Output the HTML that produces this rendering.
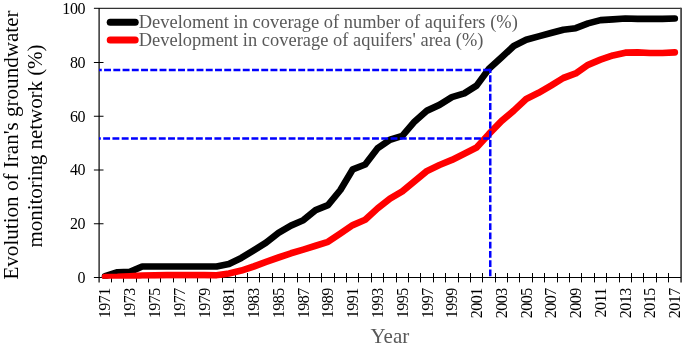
<!DOCTYPE html>
<html><head><meta charset="utf-8"><title>Evolution of Iran's groundwater monitoring network</title>
<style>
html,body{margin:0;padding:0;background:#fff;}
body{width:685px;height:349px;overflow:hidden;}
svg{display:block;will-change:transform;font-family:"Liberation Serif","Times New Roman",serif;}
</style></head><body>
<svg width="685" height="349" viewBox="0 0 685 349">
<rect width="685" height="349" fill="#fff"/>
<path d="M93.9 8.3 H681.1" fill="none" stroke="#333" stroke-width="1.3"/>
<path d="M681.1 7.7 V282.4" fill="none" stroke="#4a4a4a" stroke-width="1.8"/>
<path d="M99.1 8.0 V282.4" stroke="#000" stroke-width="1.2" fill="none"/>
<path d="M93.9 277.5 H681.0" stroke="#000" stroke-width="1" fill="none"/>
<path d="M111.5 273.0V282.4M123.5 273.0V282.4M136.5 273.0V282.4M148.5 273.0V282.4M160.5 273.0V282.4M173.5 273.0V282.4M185.5 273.0V282.4M197.5 273.0V282.4M210.5 273.0V282.4M222.5 273.0V282.4M235.5 273.0V282.4M247.5 273.0V282.4M259.5 273.0V282.4M272.5 273.0V282.4M284.5 273.0V282.4M297.5 273.0V282.4M309.5 273.0V282.4M321.5 273.0V282.4M334.5 273.0V282.4M346.5 273.0V282.4M358.5 273.0V282.4M371.5 273.0V282.4M383.5 273.0V282.4M396.5 273.0V282.4M408.5 273.0V282.4M420.5 273.0V282.4M433.5 273.0V282.4M445.5 273.0V282.4M458.5 273.0V282.4M470.5 273.0V282.4M482.5 273.0V282.4M495.5 273.0V282.4M507.5 273.0V282.4M519.5 273.0V282.4M532.5 273.0V282.4M544.5 273.0V282.4M557.5 273.0V282.4M569.5 273.0V282.4M581.5 273.0V282.4M594.5 273.0V282.4M606.5 273.0V282.4M619.5 273.0V282.4M631.5 273.0V282.4M643.5 273.0V282.4M656.5 273.0V282.4M668.5 273.0V282.4" stroke="#000" stroke-width="1" fill="none"/>
<path d="M93.9 223.75H103.5M93.9 170.00H103.5M93.9 116.25H103.5M93.9 62.50H103.5" stroke="#000" stroke-width="1" fill="none"/>
<clipPath id="c"><rect x="0" y="0" width="685" height="278.65"/></clipPath><g clip-path="url(#c)">
<polyline points="105.1,276.1 117.5,272.3 129.9,271.9 142.2,266.5 154.6,266.5 167.0,266.5 179.4,266.5 191.8,266.5 204.2,266.5 216.6,266.5 228.9,264.1 241.3,257.9 253.7,250.4 266.1,242.6 278.5,232.9 290.9,225.6 303.3,220.2 315.6,210.2 328.0,205.1 340.4,190.0 352.8,169.3 365.2,164.5 377.6,148.3 390.0,139.7 402.3,135.9 414.7,121.4 427.1,110.6 439.5,104.9 451.9,97.1 464.3,93.4 476.6,85.6 489.0,68.7 501.4,57.6 513.8,46.0 526.2,39.8 538.6,36.4 551.0,33.0 563.3,29.7 575.7,28.2 588.1,23.4 600.5,20.1 612.9,19.3 625.3,18.5 637.7,18.8 650.0,18.8 662.4,18.8 674.8,18.5" fill="none" stroke="#000" stroke-width="6.67" stroke-linecap="round" stroke-linejoin="round"/>
<polyline points="105.1,277.0 117.5,276.9 129.9,276.3 142.2,275.5 154.6,275.3 167.0,275.1 179.4,275.1 191.8,275.1 204.2,275.1 216.6,275.3 228.9,273.5 241.3,270.6 253.7,266.5 266.1,261.9 278.5,257.5 290.9,253.3 303.3,249.6 315.6,245.8 328.0,241.8 340.4,233.4 352.8,225.1 365.2,219.7 377.6,208.4 390.0,198.7 402.3,191.4 414.7,181.2 427.1,170.9 439.5,165.0 451.9,159.9 464.3,153.7 476.6,147.5 489.0,133.9 501.4,121.1 513.8,110.6 526.2,99.0 538.6,92.8 551.0,85.6 563.3,78.0 575.7,73.4 588.1,64.8 600.5,59.7 612.9,55.4 625.3,52.7 637.7,52.4 650.0,53.0 662.4,53.0 674.8,52.4" fill="none" stroke="#f00" stroke-width="6.67" stroke-linecap="round" stroke-linejoin="round"/>
</g>
<g stroke="#0000ff" stroke-width="2.5" fill="none" stroke-dasharray="6.9 2.37" stroke-dashoffset="5.1">
<path d="M99 69.9H491.5" stroke-dasharray="6.9 2.345" stroke-dashoffset="4.15"/>
<path d="M99 138.55H491.5"/>
</g>
<path d="M490.25 68.65V277.3" stroke="#0000ff" stroke-width="2.5" fill="none" stroke-dasharray="6.9 2.343" stroke-dashoffset="2.6"/>
<g font-size="16" fill="#000" text-anchor="end" letter-spacing="-0.3">
<text x="85.3" y="283.1">0</text>
<text x="85.3" y="229.2">20</text>
<text x="85.3" y="175.4">40</text>
<text x="85.3" y="121.5">60</text>
<text x="85.3" y="67.7">80</text>
<text x="85.3" y="13.8">100</text>
</g>
<g font-size="16" fill="#000" text-anchor="end" letter-spacing="-0.5">
<text transform="translate(110.4 288.2) rotate(-90)">1971</text>
<text transform="translate(135.2 288.2) rotate(-90)">1973</text>
<text transform="translate(160.0 288.2) rotate(-90)">1975</text>
<text transform="translate(184.8 288.2) rotate(-90)">1977</text>
<text transform="translate(209.5 288.2) rotate(-90)">1979</text>
<text transform="translate(234.3 288.2) rotate(-90)">1981</text>
<text transform="translate(259.1 288.2) rotate(-90)">1983</text>
<text transform="translate(283.8 288.2) rotate(-90)">1985</text>
<text transform="translate(308.6 288.2) rotate(-90)">1987</text>
<text transform="translate(333.4 288.2) rotate(-90)">1989</text>
<text transform="translate(358.1 288.2) rotate(-90)">1991</text>
<text transform="translate(382.9 288.2) rotate(-90)">1993</text>
<text transform="translate(407.7 288.2) rotate(-90)">1995</text>
<text transform="translate(432.5 288.2) rotate(-90)">1997</text>
<text transform="translate(457.2 288.2) rotate(-90)">1999</text>
<text transform="translate(482.0 288.2) rotate(-90)">2001</text>
<text transform="translate(506.8 288.2) rotate(-90)">2003</text>
<text transform="translate(531.5 288.2) rotate(-90)">2005</text>
<text transform="translate(556.3 288.2) rotate(-90)">2007</text>
<text transform="translate(581.1 288.2) rotate(-90)">2009</text>
<text transform="translate(605.8 288.2) rotate(-90)">2011</text>
<text transform="translate(630.6 288.2) rotate(-90)">2013</text>
<text transform="translate(655.4 288.2) rotate(-90)">2015</text>
<text transform="translate(680.2 288.2) rotate(-90)">2017</text>
</g>
<g font-size="21.1" fill="#000" text-anchor="middle">
<text transform="translate(18 145.0) rotate(-90)">Evolution of Iran's groundwater</text>
<text transform="translate(42.3 146.0) rotate(-90)" letter-spacing="-0.09">monitoring network (%)</text>
</g>
<text x="389.9" y="342.6" font-size="21" fill="#595959" text-anchor="middle">Year</text>
<path d="M110.2 22.2H135.2" stroke="#000" stroke-width="7" stroke-linecap="round"/>
<path d="M110.2 40.1H135.2" stroke="#f00" stroke-width="7" stroke-linecap="round"/>
<g font-size="18.4" letter-spacing="0.03" fill="#595959">
<text x="138.8" y="27.7">Develoment in coverage of number of aqui<tspan dx="1.2">fers (%)</tspan></text>
<text x="138.8" y="45.6">Development in coverage of aquifers' area (%)</text>
</g>
</svg></body></html>
